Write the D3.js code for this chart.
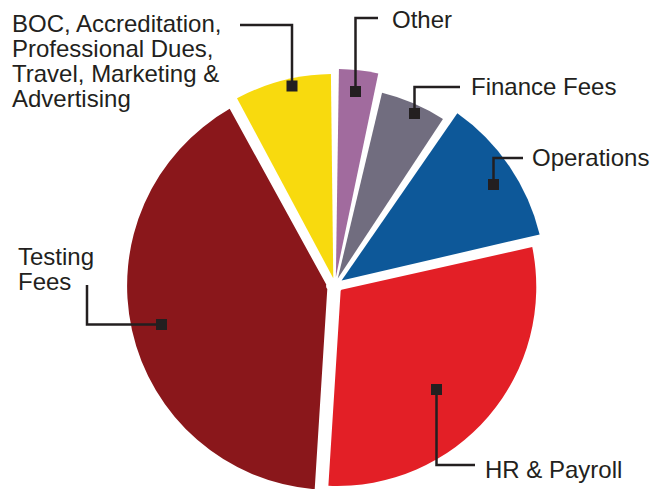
<!DOCTYPE html>
<html>
<head>
<meta charset="utf-8">
<script src="https://cdn.jsdelivr.net/npm/d3@7"></script>
<style>
  html, body { margin: 0; padding: 0; background: #fff; }
  #chart { width: 663px; height: 489px; }
  .label { font-family: "Liberation Sans", Arial, Helvetica, sans-serif; font-size: 24px; fill: #231f20; }
</style>
</head>
<body>
<div id="chart"></div>
<script>
// slice data (clockwise from 12 o'clock)
const categories = ["Other", "Finance Fees", "Operations", "HR & Payroll", "Testing Fees", "BOC, Accreditation, Professional Dues, Travel, Marketing & Advertising"];
const shares = [3.5, 6, 12, 29.5, 41, 8];
const labelLines = [
    ["Other"],
    ["Finance Fees"],
    ["Operations"],
    ["HR & Payroll"],
    ["Testing", "Fees"],
    ["BOC, Accreditation,", "Professional Dues,", "Travel, Marketing &", "Advertising"]
];

// styling
const colors = ["#a16b9e", "#716d7f", "#0d5899", "#e31f26", "#8a171b", "#f8da0e"];
const sliceRadius = [213, 196, 208, 199, 204, 209];
const explode = [3, 2, 3, 3, 4, 2];

// label layout: marker square, leader path corner points, text anchor
const labelLayout = [
    { marker: [355.5, 91.5], leader: [[355.5, 18], [378, 18]], text: [392, 28] },
    { marker: [414.5, 113.5], leader: [[414.5, 87], [460, 87]], text: [471, 95] },
    { marker: [493.5, 184.5], leader: [[493.5, 158], [523, 158]], text: [532, 166] },
    { marker: [436.5, 389.5], leader: [[436.5, 465], [475, 465]], text: [485, 478] },
    { marker: [161.5, 324.5], leader: [[87, 324.5], [87, 285]], text: [18, 265] },
    { marker: [292, 86], leader: [[292, 25], [240, 25]], text: [12, 32] }
];

const width = 663, height = 489;
const cx = 335, cy = 285;
const lineHeight = 25;

const svg = d3.select("#chart")
    .append("svg")
    .attr("width", width)
    .attr("height", height);

const data = categories.map((c, i) => ({ name: c, value: shares[i], i: i }));

const pie = d3.pie()
    .sort(null)
    .value(d => d.value)
    .startAngle(0)
    .endAngle(2 * Math.PI);

const arcs = pie(data);

const pieGroup = svg.append("g")
    .attr("transform", `translate(${cx}, ${cy})`);

pieGroup.selectAll("path")
    .data(arcs)
    .enter()
    .append("path")
    .attr("d", d => d3.arc()
        .innerRadius(5)
        .outerRadius(sliceRadius[d.data.i])
        .padAngle(0.036)
        .padRadius(200)(d))
    .attr("transform", d => {
        let mid = (d.startAngle + d.endAngle) / 2;
        let e = explode[d.data.i];
        return `translate(${e * Math.sin(mid)}, ${-e * Math.cos(mid)})`;
    })
    .attr("fill", d => colors[d.data.i]);

// leader lines and markers
const annot = svg.append("g").attr("class", "annotations");

annot.selectAll("path")
    .data(labelLayout)
    .enter()
    .append("path")
    .attr("d", d => d3.line()([d.marker].concat(d.leader)))
    .attr("fill", "none")
    .attr("stroke", "#231f20")
    .attr("stroke-width", 2.5);

const sq = 11;
annot.selectAll("rect")
    .data(labelLayout)
    .enter()
    .append("rect")
    .attr("x", d => d.marker[0] - sq / 2)
    .attr("y", d => d.marker[1] - sq / 2)
    .attr("width", sq)
    .attr("height", sq)
    .attr("fill", "#231f20");

// labels
labelLines.forEach((lines, i) => {
    let t = svg.append("text")
        .attr("class", "label")
        .attr("x", labelLayout[i].text[0])
        .attr("y", labelLayout[i].text[1]);
    lines.forEach((ln, j) => {
        t.append("tspan")
            .attr("x", labelLayout[i].text[0])
            .attr("dy", j === 0 ? 0 : lineHeight)
            .text(ln);
    });
});
</script>
</body>
</html>
